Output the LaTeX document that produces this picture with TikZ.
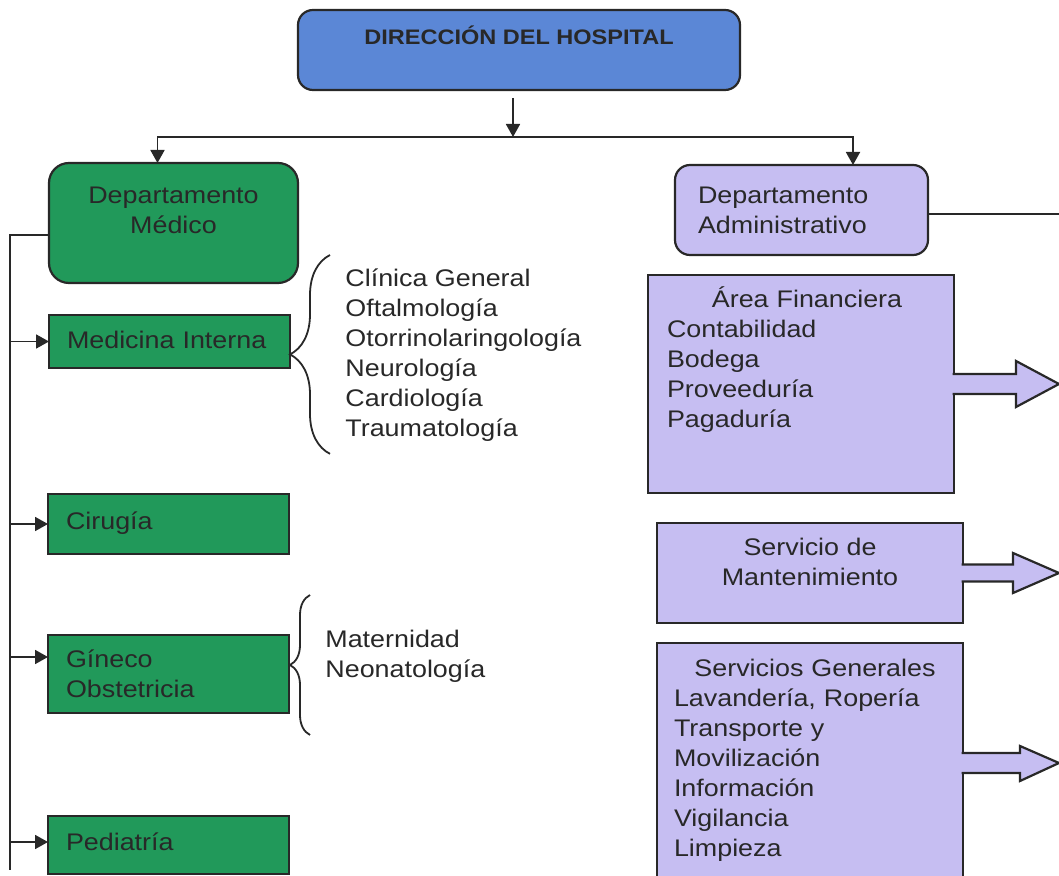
\documentclass[tikz,border=0pt]{standalone}
\usepackage{fontspec}
\setmainfont{Liberation Sans}[FakeStretch=1.12]
\usetikzlibrary{arrows.meta,calc,decorations.pathreplacing}

\definecolor{dirblue}{RGB}{91,135,214}
\definecolor{medgreen}{RGB}{33,153,90}
\definecolor{admlilac}{RGB}{198,190,242}
\definecolor{ink}{RGB}{40,40,40}

\tikzstyle{arrow} = [line width=0.9pt, draw=ink, -{Triangle[length=6.5pt,width=7pt]}]
\tikzstyle{line} = [line width=0.9pt, draw=ink]
\tikzstyle{box} = [
        rectangle,
        draw=ink,
        line width=1.1pt,
        inner sep=0pt,
        outer sep=0pt,
        text=ink,
        font=\fontsize{12}{15}\selectfont
    ]
\tikzstyle{direccion} = [
        box,
        rounded corners=7.5pt,
        fill=dirblue,
        minimum width=221pt,
        minimum height=40pt,
        font=\fontsize{10.5}{13}\selectfont\bfseries,
        text height=8pt,
        text depth=13.5pt
    ]
\tikzstyle{medhead} = [
        box,
        rounded corners=10pt,
        fill=medgreen,
        minimum width=124.5pt,
        minimum height=60pt,
        align=center
    ]
\tikzstyle{medbox} = [
        box,
        fill=medgreen,
        inner xsep=9pt,
        text width=102.5pt,
        align=left
    ]
\tikzstyle{admhead} = [
        box,
        rounded corners=7.5pt,
        fill=admlilac,
        minimum height=45pt,
        inner xsep=11.5pt,
        text width=103.5pt,
        align=left
    ]
\tikzstyle{admbox} = [box, fill=admlilac, minimum width=153pt]
\tikzstyle{blockarrow} = [line width=1.1pt, draw=ink, fill=admlilac, line join=miter]
\tikzstyle{listing} = [
        inner sep=0pt,
        anchor=north west,
        align=left,
        text=ink,
        font=\fontsize{12}{15}\selectfont
    ]
\tikzstyle{bracket} = [line width=0.9pt, draw=ink, decorate]

\begin{document}
\begin{tikzpicture}[x=0.5pt,y=-0.5pt]

        \useasboundingbox (0,0) rectangle (1059,876);
        \clip (0,0) rectangle (1059,876);

        \node [direccion] (dir) at (519,50) {DIRECCIÓN DEL HOSPITAL};

        % medical side
        \node [medhead] (depmed) at (173.5,223) {Departamento\\Médico\rule[-13pt]{0pt}{13pt}};
        \node [medbox, minimum height=26.5pt, text height=9pt, text depth=2pt] (med) at (169.5,341.5) {Medicina Interna};
        \node [medbox, minimum height=30pt, text height=9pt, text depth=4pt] (cir) at (168.5,524) {Cirugía};
        \node [medbox, minimum height=39pt] (gin) at (168.5,674) {Gíneco\\Obstetricia};
        \node [medbox, minimum height=29pt, text height=9pt, text depth=4pt] (ped) at (168.5,845) {Pediatría};

        \node [listing] (medlist) at (345,268.4) {Clínica General\\Oftalmología\\Otorrinolaringología\\Neurología\\Cardiología\\Traumatología};
        \node [listing] (matlist) at (325,629.4) {Maternidad\\Neonatología};

        % administrative side
        \node [admhead] (depadm) at (801.5,210) {Departamento\\Administrativo};
        \node [admbox, minimum height=109pt, inner xsep=9.5pt, text width=134pt, align=left] (fin) at (801,384)
            {\makebox[134pt]{\hspace{6pt}Área Financiera}\\Contabilidad\\Bodega\\Proveeduría\\Pagaduría\rule[-27pt]{0pt}{27pt}};
        \node [admbox, minimum height=50pt, align=center] (mant) at (810,573) {Servicio de\\Mantenimiento\rule[-11pt]{0pt}{11pt}};
        \node [admbox, minimum height=117.5pt, inner xsep=8.5pt, text width=136pt, align=left] (gen) at (810,760.5)
            {\makebox[136pt]{\hspace{5pt}Servicios Generales}\\Lavandería, Ropería\\Transporte y\\Movilización\\Información\\Vigilancia\\Limpieza};

        \coordinate (hub) at (513,137);
        \coordinate (spinebot) at (10,870);
        \coordinate (ginin) at ([yshift=8.5pt]gin.west);
        \coordinate (pedin) at ([yshift=1.5pt]ped.west);
        \coordinate (admout) at (1070,214);
        \coordinate (fintip) at (1059,384);
        \coordinate (manttip) at (1059,573);
        \coordinate (gentip) at (1059,763);

        \draw [arrow] ([yshift=-4pt]hub |- dir.south) -- (hub);
        \draw [arrow] (hub) -| ([xshift=-8pt]depmed.north);
        \draw [arrow] (hub) -| ([xshift=25.75pt]depadm.north);

        \draw [line] ([yshift=-6pt]depmed.west) -| (spinebot);
        \draw [arrow] (spinebot |- med.west) -- (med.west);
        \draw [arrow] (spinebot |- cir.west) -- (cir.west);
        \draw [arrow] (spinebot |- ginin) -- (ginin);
        \draw [arrow] (spinebot |- pedin) -- (pedin);

        \draw [bracket, decoration={brace,amplitude=20pt}] ([xshift=-7.5pt,yshift=-6pt]medlist.south west) -- ([xshift=-7.5pt,yshift=6.7pt]medlist.north west);
        \draw [bracket, decoration={brace,amplitude=10pt}] ([xshift=-7.5pt,yshift=-26.2pt]matlist.south west) -- ([xshift=-7.5pt,yshift=17.2pt]matlist.north west);

        \draw [line] ([yshift=-2pt]depadm.east) -- (admout);

        \filldraw [blockarrow] ($(fin.east)+(-1.5,-10)$) -- ($(fin.east)+(62,-10)$) -- ++(0,-13) -- (fintip)
            -- ($(fin.east)+(62,23)$) -- ++(0,-13) -- ($(fin.east)+(-1.5,10)$);
        \filldraw [blockarrow] ($(mant.east)+(-1.5,-8.5)$) -- ($(mant.east)+(50,-8.5)$) -- ++(0,-11.5) -- (manttip)
            -- ($(mant.east)+(50,20)$) -- ++(0,-11.5) -- ($(mant.east)+(-1.5,8.5)$);
        \filldraw [blockarrow] ($(gen.east)+(-1.5,-7.5)$) -- ($(gen.east)+(57,-7.5)$) -- ++(0,-7) -- (gentip)
            -- ($(gen.east)+(57,20.5)$) -- ++(0,-8) -- ($(gen.east)+(-1.5,12.5)$);

    \end{tikzpicture}
\end{document}
